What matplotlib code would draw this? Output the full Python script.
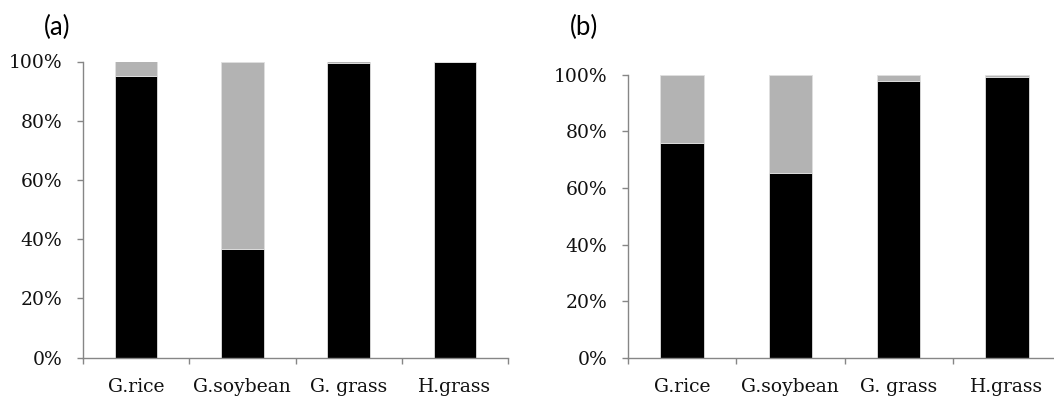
import matplotlib
matplotlib.use("Agg")
import matplotlib.pyplot as plt
import numpy as np
from matplotlib.ticker import PercentFormatter

categories = ["G.rice", "G.soybean", "G. grass", "H.grass"]
black_a = [0.951, 0.367, 0.995, 0.999]
black_b = [0.758, 0.654, 0.977, 0.991]
panel_labels = ["(a)", "(b)"]

BLACK = "#000000"
GRAY = "#b3b3b3"
AXC = "#868686"

fig = plt.figure(figsize=(10.54, 3.96), dpi=100)
ax_a = fig.add_axes([83/1054, 38.3/396, 425/1054, 296.2/396])
ax_b = fig.add_axes([628/1054, 38.3/396, 433/1054, 283/396])

for ax, black, lab, lx in [(ax_a, black_a, panel_labels[0], 57), (ax_b, black_b, panel_labels[1], 584)]:
    x = np.arange(len(categories))
    gray = [1 - v for v in black]
    ax.bar(x, black, width=0.4, color=BLACK, edgecolor="#e0e0e0", linewidth=0.6, zorder=2)
    ax.bar(x, gray, bottom=black, width=0.4, color=GRAY, edgecolor="#e0e0e0", linewidth=0.6, zorder=2)
    ax.set_xlim(-0.5, len(categories) - 0.5)
    ax.set_ylim(0, 1)
    ax.set_yticks(np.linspace(0, 1, 6))
    ax.yaxis.set_major_formatter(PercentFormatter(1.0, decimals=0))
    ax.set_xticks(x)
    ax.set_xticklabels(categories)
    ax.set_xticks(np.arange(len(categories) + 1) - 0.5, minor=True)
    ax.tick_params(axis="x", which="major", length=0, pad=14.5)
    ax.tick_params(axis="x", which="minor", length=4, width=1, color=AXC, direction="out")
    ax.tick_params(axis="y", which="major", length=4, width=1, color=AXC, direction="out", pad=11)
    for t in ax.get_xticklabels() + ax.get_yticklabels():
        t.set_fontfamily("DejaVu Serif")
        t.set_fontsize(13.5)
        t.set_color("#111111")
    for s in ["top", "right"]:
        ax.spines[s].set_visible(False)
    for s in ["left", "bottom"]:
        ax.spines[s].set_color(AXC)
        ax.spines[s].set_linewidth(1)
    fig.text(lx / 1054, 1 - 27 / 396, lab, ha="center", va="center",
             fontsize=18.5, family="Lato", color="#000000")

fig.savefig("out.png", dpi=100)
